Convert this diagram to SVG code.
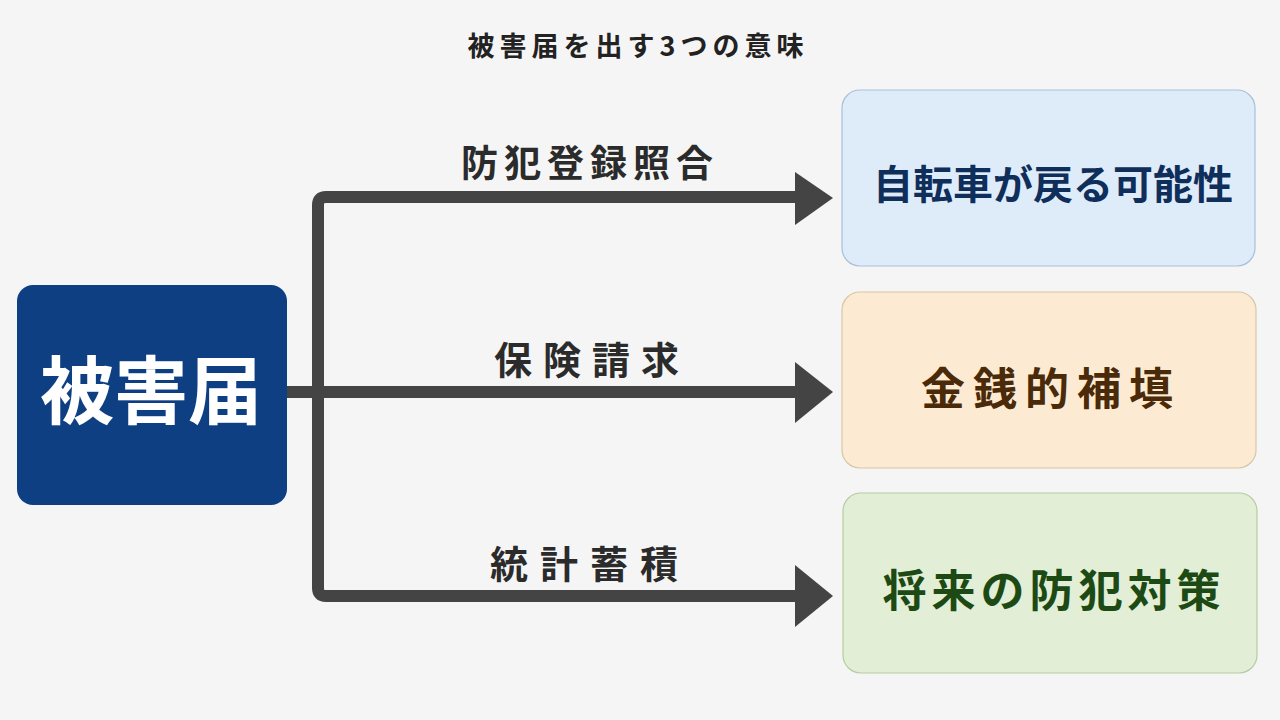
<svg xmlns="http://www.w3.org/2000/svg" width="1280" height="720" viewBox="0 0 1280 720">
<defs>
<style>
text{font-family:"Noto Sans CJK JP","Noto Sans",sans-serif;font-weight:700;text-anchor:middle}
.lbl{font-size:37px;fill:#2b2b2b}
.box{stroke-width:1.2}
.conn{fill:none;stroke:#444;stroke-width:12}
.head{fill:#444}
</style>
</defs>
<rect width="1280" height="720" fill="#f5f5f5"/>
<text x="638" y="56" style="font-size:27px;fill:#222;letter-spacing:5px">被害届を出す3つの意味</text>
<g id="connectors">
<path class="conn" d="M287 392H800"/>
<path class="conn" d="M800 197H326Q318 197 318 205V588Q318 596 326 596H800" stroke-linejoin="round"/>
<polygon class="head" points="795,172 833,198 795,225"/>
<polygon class="head" points="795,362 833,392 795,423"/>
<polygon class="head" points="795,565 833,596 795,627"/>
<text class="lbl" x="590" y="177" style="letter-spacing:6px">防犯登録照合</text>
<text class="lbl" x="592" y="374" style="font-size:38px;letter-spacing:11px">保険請求</text>
<text class="lbl" x="590" y="578" style="font-size:38px;letter-spacing:12px">統計蓄積</text>
</g>
<g id="node-higaitodoke">
<rect x="17" y="285" width="270" height="220" rx="16" fill="#0e3f82"/>
<text x="151" y="418" style="font-size:74px;fill:#ffffff">被害届</text>
</g>
<g id="node-jitensha">
<rect class="box" x="842" y="90" width="413" height="176" rx="18" fill="#deecfa" stroke="#a9bfd8"/>
<text x="1053" y="199" style="font-size:40px;fill:#0f2f5a">自転車が戻る可能性</text>
</g>
<g id="node-kinsen">
<rect class="box" x="842" y="292" width="414" height="176" rx="18" fill="#fcebd2" stroke="#d8c6a6"/>
<text x="1051" y="405" style="font-size:44px;fill:#4a2a08;letter-spacing:8px">金銭的補填</text>
</g>
<g id="node-bohan">
<rect class="box" x="843" y="493" width="414" height="180" rx="18" fill="#e2efd6" stroke="#b5cca0"/>
<text x="1054" y="607" style="font-size:44px;fill:#1d4a14;letter-spacing:5px">将来の防犯対策</text>
</g>
</svg>
